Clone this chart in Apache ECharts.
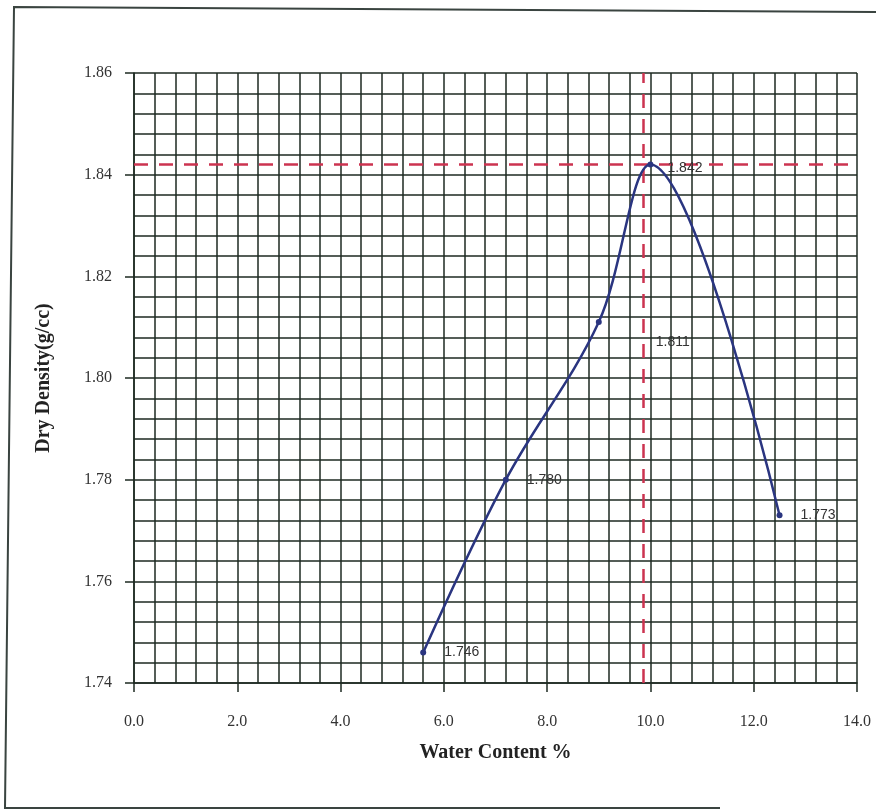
<!DOCTYPE html>
<html>
<head>
<meta charset="utf-8">
<script src="https://cdn.jsdelivr.net/npm/echarts@6/dist/echarts.min.js"></script>
<style>
html,body{margin:0;padding:0;background:#fff;}
#chart{width:876px;height:810px;}
</style>
</head>
<body>
<div id="chart"></div>
<script>
var waterContent = [5.6, 7.2, 9.0, 10.0, 12.5];
var dryDensity = [1.746, 1.780, 1.811, 1.842, 1.773];
var pointLabels = ['1.746', '1.780', '1.811', '1.842', '1.773'];
var optimumWater = 9.86;
var maxDryDensity = 1.842;
var xTitle = 'Water Content %';
var yTitle = 'Dry Density(g/cc)';

var gridColor = '#1e2a22';
var serif = '"Liberation Serif", "DejaVu Serif", serif';

var data = waterContent.map(function (x, i) {
  var d = { value: [x, dryDensity[i]], label: { formatter: pointLabels[i] } };
  if (i === 2) { d.label.offset = [36, 20]; }
  if (i === 3) { d.label.offset = [-4, 4]; }
  return d;
});

var chart = echarts.init(document.getElementById('chart'), null, { renderer: 'canvas' });
chart.setOption({
  backgroundColor: '#ffffff',
  animation: false,
  grid: { left: 134, right: 19, top: 73, bottom: 127 },
  graphic: [
    { type: 'polyline', shape: { points: [[876, 12], [14, 7], [5, 808], [720, 808]] },
      style: { stroke: '#3a4440', lineWidth: 2, fill: null }, silent: true }
  ],
  xAxis: {
    type: 'value', min: 0, max: 14, interval: 2,
    name: xTitle, nameLocation: 'middle', nameGap: 60,
    nameTextStyle: { fontFamily: serif, fontWeight: 'bold', fontSize: 20, color: '#222' },
    axisLine: { show: true, onZero: false, lineStyle: { color: gridColor, width: 1.5 } },
    axisTick: { show: true, length: 9, lineStyle: { color: gridColor, width: 1.5 } },
    axisLabel: { margin: 31, fontFamily: serif, fontSize: 16, color: '#333',
      formatter: function (v) { return v.toFixed(1); } },
    splitLine: { show: true, lineStyle: { color: gridColor, width: 1.5 } },
    minorTick: { show: false, splitNumber: 5 },
    minorSplitLine: { show: true, lineStyle: { color: gridColor, width: 1.5 } }
  },
  yAxis: {
    type: 'value', min: 1.74, max: 1.86, interval: 0.02,
    name: yTitle, nameLocation: 'middle', nameGap: 80, nameRotate: 90,
    nameTextStyle: { fontFamily: serif, fontWeight: 'bold', fontSize: 20, color: '#222' },
    axisLine: { show: true, onZero: false, lineStyle: { color: gridColor, width: 1.5 } },
    axisTick: { show: true, length: 9, lineStyle: { color: gridColor, width: 1.5 } },
    axisLabel: { margin: 22, fontFamily: serif, fontSize: 16, color: '#333',
      formatter: function (v) { return v.toFixed(2); } },
    splitLine: { show: true, lineStyle: { color: gridColor, width: 1.5 } },
    minorTick: { show: false, splitNumber: 5 },
    minorSplitLine: { show: true, lineStyle: { color: gridColor, width: 1.5 } }
  },
  series: [{
    type: 'line',
    data: data,
    smooth: 0.35,
    symbol: 'circle',
    symbolSize: 6,
    itemStyle: { color: '#2a3580' },
    lineStyle: { color: '#2a3580', width: 2.5 },
    label: { show: true, position: 'right', distance: 18,
      fontFamily: 'Arial, "Liberation Sans", sans-serif', fontSize: 14, color: '#333' },
    markLine: {
      silent: true,
      symbol: 'none',
      precision: 4,
      label: { show: false },
      lineStyle: { color: '#cc3350', width: 2.5, type: [14, 11] },
      data: [ { xAxis: optimumWater }, { yAxis: maxDryDensity } ]
    },
    z: 5
  }]
});
</script>
</body>
</html>
